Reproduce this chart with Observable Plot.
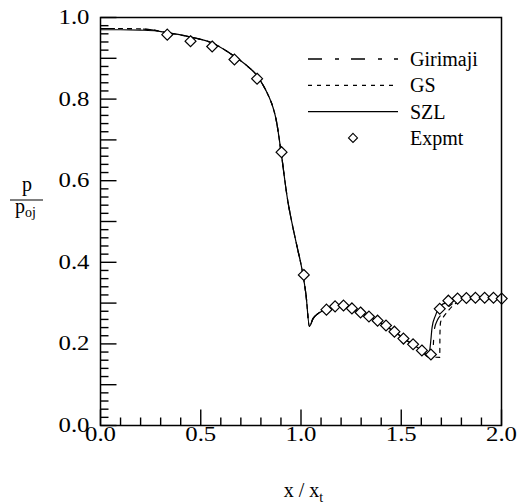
<!DOCTYPE html>
<html>
<head>
<meta charset="utf-8">
<script src="https://cdn.jsdelivr.net/npm/d3@7"></script>
<script src="https://cdn.jsdelivr.net/npm/@observablehq/plot@0.6"></script>
<style>
  html, body { margin: 0; padding: 0; background: #fff; }
  #chart { width: 528px; height: 504px; }
  #chart svg, #chart svg text, #chart svg tspan { font-family: "Liberation Serif", "DejaVu Serif", serif !important; }
</style>
</head>
<body>
<div id="chart"></div>
<script>
// Wall pressure ratio p/p_oj along the nozzle, x/x_t

// SZL model (solid)
const szlX = [0, 0.10, 0.20, 0.28, 0.33, 0.45, 0.56, 0.67, 0.73, 0.78, 0.80, 0.82, 0.84, 0.86, 0.875, 0.885, 0.895, 0.905, 0.915, 0.931, 0.956, 0.981, 1.006, 1.025, 1.042, 1.06, 1.09, 1.13, 1.17, 1.21, 1.25, 1.30, 1.34, 1.38, 1.42, 1.47, 1.51, 1.56, 1.60, 1.636, 1.646, 1.654, 1.671, 1.696, 1.74, 1.78, 1.83, 1.87, 1.92, 1.96, 2.0];
const szlY = [0.970, 0.970, 0.969, 0.967, 0.963, 0.952, 0.937, 0.904, 0.882, 0.858, 0.843, 0.826, 0.806, 0.780, 0.752, 0.724, 0.690, 0.655, 0.617, 0.560, 0.494, 0.437, 0.380, 0.320, 0.243, 0.262, 0.276, 0.285, 0.290, 0.291, 0.286, 0.276, 0.266, 0.256, 0.244, 0.229, 0.214, 0.198, 0.184, 0.168, 0.201, 0.241, 0.270, 0.294, 0.303, 0.309, 0.312, 0.314, 0.315, 0.316, 0.316];

// Girimaji model (dash-dot)
const girX = [0, 0.10, 0.20, 0.28, 0.33, 0.45, 0.56, 0.67, 0.73, 0.78, 0.80, 0.82, 0.84, 0.86, 0.875, 0.885, 0.895, 0.905, 0.915, 0.931, 0.956, 0.981, 1.006, 1.025, 1.042, 1.06, 1.09, 1.13, 1.17, 1.21, 1.25, 1.30, 1.34, 1.38, 1.42, 1.47, 1.51, 1.56, 1.60, 1.636, 1.655, 1.665, 1.68, 1.70, 1.72, 1.76, 1.80, 1.83, 1.87, 1.92, 1.96, 2.0];
const girY = [0.973, 0.973, 0.972, 0.968, 0.963, 0.952, 0.937, 0.904, 0.882, 0.858, 0.843, 0.826, 0.806, 0.780, 0.752, 0.724, 0.690, 0.655, 0.617, 0.560, 0.494, 0.437, 0.380, 0.320, 0.243, 0.262, 0.276, 0.285, 0.290, 0.291, 0.286, 0.276, 0.266, 0.256, 0.244, 0.229, 0.214, 0.198, 0.184, 0.170, 0.166, 0.235, 0.258, 0.272, 0.283, 0.300, 0.309, 0.312, 0.314, 0.315, 0.316, 0.316];

// GS model (dotted)
const gsX = [0, 0.10, 0.20, 0.28, 0.33, 0.45, 0.56, 0.67, 0.73, 0.78, 0.80, 0.82, 0.84, 0.86, 0.875, 0.885, 0.895, 0.905, 0.915, 0.931, 0.956, 0.981, 1.006, 1.025, 1.042, 1.06, 1.09, 1.13, 1.17, 1.21, 1.25, 1.30, 1.34, 1.38, 1.42, 1.47, 1.51, 1.56, 1.60, 1.636, 1.692, 1.693, 1.696, 1.709, 1.729, 1.76, 1.80, 1.83, 1.87, 1.92, 1.96, 2.0];
const gsY = [0.973, 0.973, 0.972, 0.968, 0.963, 0.952, 0.937, 0.904, 0.882, 0.858, 0.843, 0.826, 0.806, 0.780, 0.752, 0.724, 0.690, 0.655, 0.617, 0.560, 0.494, 0.437, 0.380, 0.320, 0.243, 0.262, 0.276, 0.285, 0.290, 0.291, 0.286, 0.276, 0.266, 0.256, 0.244, 0.229, 0.214, 0.198, 0.184, 0.170, 0.167, 0.225, 0.253, 0.265, 0.278, 0.295, 0.306, 0.311, 0.314, 0.315, 0.316, 0.316];

// Experiment (diamonds)
const expX = [0.333, 0.449, 0.557, 0.668, 0.781, 0.903, 1.014, 1.127, 1.170, 1.212, 1.254, 1.297, 1.339, 1.382, 1.424, 1.466, 1.511, 1.559, 1.603, 1.648, 1.692, 1.735, 1.781, 1.825, 1.870, 1.916, 1.960, 2.001];
const expY = [0.958, 0.942, 0.929, 0.897, 0.850, 0.670, 0.369, 0.284, 0.292, 0.294, 0.287, 0.277, 0.267, 0.257, 0.245, 0.230, 0.213, 0.199, 0.184, 0.174, 0.286, 0.306, 0.311, 0.3125, 0.313, 0.313, 0.313, 0.311];

const seriesNames = ["Girimaji", "GS", "SZL", "Expmt"];
const xLabelTicks = [0, 0.5, 1.0, 1.5, 2.0];
const yLabelTicks = [0, 0.2, 0.4, 0.6, 0.8, 1.0];

const rows = (xs, ys) => xs.map((x, i) => ({x, y: ys[i]}));
const szl = rows(szlX, szlY);
const gir = rows(girX, girY);
const gs = rows(gsX, gsY);
const exp = rows(expX, expY);

const steps = (lo, hi, n) => d3.range(n + 1).map(i => +(lo + (hi - lo) * i / n).toFixed(4));
const xMajor = steps(0, 2, 4);
const xMinor = steps(0, 2, 20);
const yMajor = steps(0, 1, 10);
const yMinor = steps(0, 1, 50);

const W = 528, H = 504;
const M = {top: 17, right: 27, bottom: 79, left: 100};
const FONT = "Liberation Serif, DejaVu Serif, serif";
const dashGir = "14,13,4,12";
const dashGs = "4,5";
const minorLen = 8, majorLen = 16;
const xDomain = [0, 2], yDomain = [0, 1];

// pixels per data unit, used to size the inward frame ticks
const kx = (W - M.left - M.right) / (xDomain[1] - xDomain[0]);
const ky = (H - M.top - M.bottom) / (yDomain[1] - yDomain[0]);
const isMajor = (v, major) => major.some(m => Math.abs(m - v) < 1e-6);
const xTickRows = xMinor.map(v => ({v, lo: yDomain[0], hi: yDomain[0] + (isMajor(v, xMajor) ? majorLen : minorLen) / ky}));
const yTickRows = yMinor.map(v => ({v, lo: xDomain[0], hi: xDomain[0] + (isMajor(v, yMajor) ? majorLen : minorLen) / kx}));

const plot = Plot.plot({
  width: W,
  height: H,
  marginTop: M.top,
  marginRight: M.right,
  marginBottom: M.bottom,
  marginLeft: M.left,
  style: {fontFamily: FONT, fontSize: "20px", color: "#000", background: "#fff"},
  x: {domain: xDomain},
  y: {domain: yDomain},
  marks: [
    Plot.axisX({ticks: xLabelTicks, tickSize: 0, tickPadding: 1, tickFormat: d3.format(".1f"), label: null}),
    Plot.axisY({ticks: yLabelTicks, tickSize: 0, tickPadding: 11, tickFormat: d3.format(".1f"), label: null}),
    Plot.line(gir, {x: "x", y: "y", stroke: "#000", strokeWidth: 1.2, strokeDasharray: dashGir, curve: "monotone-x"}),
    Plot.line(gs, {x: "x", y: "y", stroke: "#000", strokeWidth: 1.2, strokeDasharray: dashGs, curve: "monotone-x"}),
    Plot.line(szl, {x: "x", y: "y", stroke: "#000", strokeWidth: 1.2, curve: "monotone-x"}),
    Plot.dot(exp, {x: "x", y: "y", symbol: "diamond2", r: 4.9, stroke: "#000", fill: "#fff", strokeWidth: 1.2}),
    Plot.frame({stroke: "#000", strokeWidth: 1.5}),
    // inward ticks along the bottom and left edges
    Plot.link(xTickRows, {x1: "v", x2: "v", y1: "lo", y2: "hi", stroke: "#000", strokeWidth: 1.4}),
    Plot.link(yTickRows, {y1: "v", y2: "v", x1: "lo", x2: "hi", stroke: "#000", strokeWidth: 1.4})
  ]
});

document.getElementById("chart").appendChild(plot);
const svg = d3.select(plot);
const sx = plot.scale("x");

// Wider numerals on the tick labels
svg.selectAll('g[aria-label="x-axis tick label"] text, g[aria-label="y-axis tick label"] text')
  .attr("textLength", 31)
  .attr("lengthAdjust", "spacingAndGlyphs");

const cx = (sx.apply(0) + sx.apply(2)) / 2;

// x-axis title: x / x_t
const xt = svg.append("text")
  .attr("x", cx + 3).attr("y", 497)
  .attr("text-anchor", "middle")
  .attr("font-family", FONT).attr("font-size", 20).attr("fill", "#000");
xt.append("tspan").text("x / x");
xt.append("tspan").attr("font-size", 14).attr("dy", 5).text("t");

// y-axis title: p over p_oj
const fy = 200, fx = 27;
svg.append("text")
  .attr("x", fx).attr("y", fy - 9)
  .attr("text-anchor", "middle")
  .attr("font-family", FONT).attr("font-size", 20).attr("fill", "#000")
  .text("p");
svg.append("line")
  .attr("x1", fx - 17).attr("x2", fx + 16)
  .attr("y1", fy).attr("y2", fy)
  .attr("stroke", "#555").attr("stroke-width", 1.5);
const yb = svg.append("text")
  .attr("x", fx - 12).attr("y", fy + 13)
  .attr("text-anchor", "start")
  .attr("font-family", FONT).attr("font-size", 20).attr("fill", "#000");
yb.append("tspan").text("p");
yb.append("tspan").attr("font-size", 14).attr("dy", 4).text("oj");

// Legend
const lg = svg.append("g")
  .attr("font-family", FONT).attr("font-size", 20).attr("text-anchor", "start");
const rowY = i => 59 + i * 26.3;
const lx1 = 308, lx2 = 398, ltx = 410;
const styles = [
  {dash: dashGir},
  {dash: dashGs},
  {dash: null},
  {symbol: true}
];
seriesNames.forEach((name, i) => {
  const y = rowY(i);
  const s = styles[i];
  if (s.symbol) {
    const r = 4.5, mx = (lx1 + lx2) / 2;
    lg.append("path")
      .attr("d", `M${mx},${y - r}L${mx + r},${y}L${mx},${y + r}L${mx - r},${y}Z`)
      .attr("fill", "#fff").attr("stroke", "#000").attr("stroke-width", 1.1);
  } else {
    lg.append("line")
      .attr("x1", lx1).attr("x2", lx2).attr("y1", y).attr("y2", y)
      .attr("stroke", "#000").attr("stroke-width", 1.3)
      .attr("stroke-dasharray", s.dash);
  }
  lg.append("text")
    .attr("x", ltx).attr("y", y).attr("dy", "0.35em")
    .attr("text-anchor", "start")
    .attr("fill", "#000")
    .text(name);
});
</script>
</body>
</html>
